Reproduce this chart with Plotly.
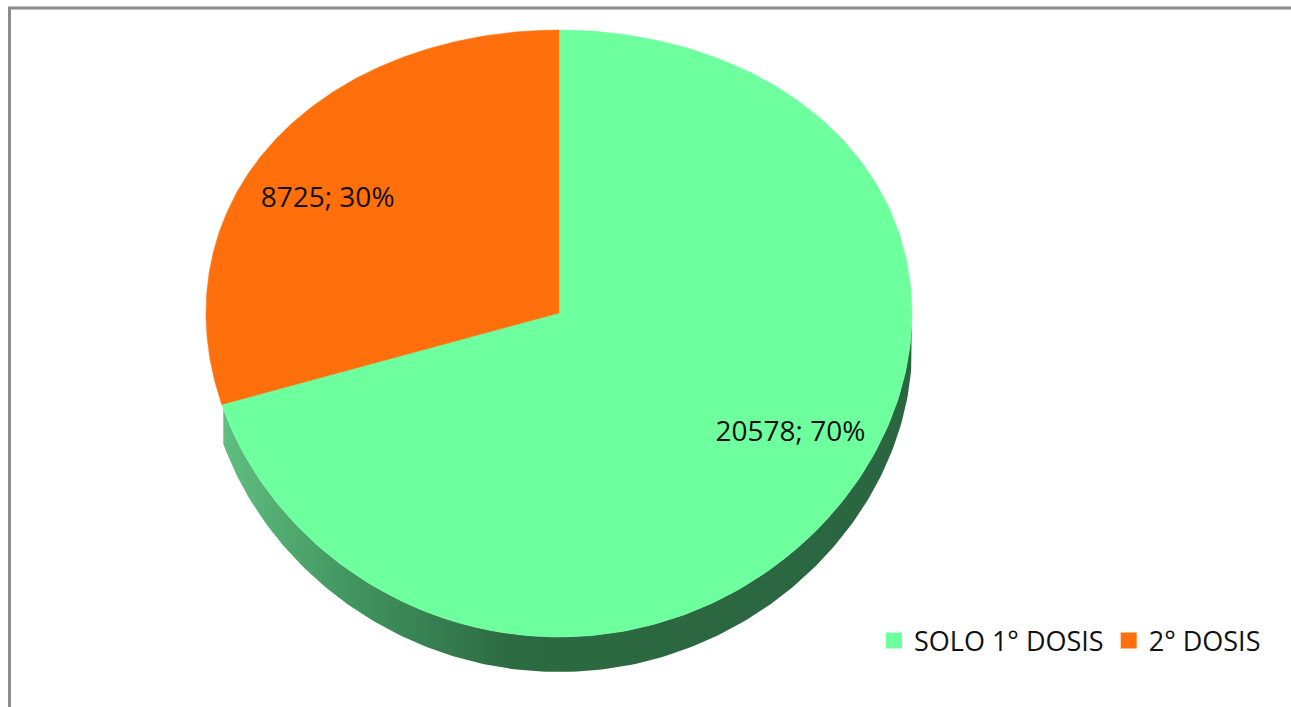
import numpy as np
import plotly.graph_objects as go

# ---- data ----
labels = ["SOLO 1° DOSIS", "2° DOSIS"]
values = [20578, 8725]

# ---- styles ----
top_colors = ["#6EFF9E", "#FF6F0B"]
side_scales = [
    [[0.0, "rgb(96,190,128)"], [0.18, "rgb(66,150,96)"], [0.42, "rgb(44,106,66)"], [1.0, "rgb(42,102,64)"]],
    [[0.0, "rgb(224,96,10)"], [1.0, "rgb(168,72,6)"]],
]
FONT = "Open Sans"

# geometry of the drawing (pixel-like axis units)
W, H = 1291, 707
CX, CY, RX, RY_T, RY_B, DEPTH = 559, 313, 353, 283, 324, 35
SIDE_FROM = 198   # side wall visible from this angle (deg) to 360
LABEL_R = 0.76    # label distance as fraction of radius
LABEL_ROT = 6.0   # perspective shift of label angle (deg)


def ellipse(theta_deg):
    t = np.radians(np.asarray(theta_deg, dtype=float))
    s = np.sin(t)
    ry = (RY_T + RY_B) / 2.0 - (RY_B - RY_T) / 2.0 * s
    return CX + RX * np.cos(t), CY - ry * s


total = float(sum(values))
slices = []
start = 90.0
for v in values:
    sweep = 360.0 * v / total
    slices.append((start, start - sweep))
    start -= sweep

fig = go.Figure()

# side wall of the front part of each slice
for i, (a0, a1) in enumerate(slices):
    for k in (-360, 0, 360):
        lo, hi = max(a1, SIDE_FROM - 360 + k), min(a0, k)
        if hi <= lo:
            continue
        th = np.linspace(lo, hi, 200)
        xs, ys = ellipse(th)
        fig.add_trace(go.Scatter(
            x=np.concatenate([xs, xs[::-1]]),
            y=np.concatenate([ys, ys[::-1] + DEPTH]),
            mode="lines", fill="toself",
            fillgradient=dict(type="horizontal", colorscale=side_scales[i],
                              start=float(xs.min()), stop=float(xs.max())),
            line=dict(width=0),
            hoverinfo="skip", showlegend=False))

# top faces
for i, (a0, a1) in enumerate(slices):
    th = np.linspace(a0, a1, 240)
    xs, ys = ellipse(th)
    fig.add_trace(go.Scatter(
        x=np.concatenate([[CX], xs, [CX]]),
        y=np.concatenate([[CY], ys, [CY]]),
        mode="lines", fill="toself", fillcolor=top_colors[i],
        line=dict(color=top_colors[i], width=0.5),
        hoverinfo="skip", showlegend=False))

# data labels
lx, ly, lt = [], [], []
for i, (a0, a1) in enumerate(slices):
    m = (a0 + a1) / 2.0 + LABEL_ROT
    ex, ey = ellipse(m)
    lx.append(CX + LABEL_R * (ex - CX))
    ly.append(CY + LABEL_R * (ey - CY))
    lt.append("%d; %d%%" % (values[i], round(100 * values[i] / total)))
fig.add_trace(go.Scatter(x=lx, y=ly, text=lt, mode="text",
                         textposition="middle center",
                         textfont=dict(family=FONT, size=28, color="#111111"),
                         hoverinfo="skip", showlegend=False))

# legend entries
for i, name in enumerate(labels):
    fig.add_trace(go.Scatter(x=[None], y=[None], mode="markers", name=name,
                             marker=dict(symbol="square", size=19, color=top_colors[i])))

fig.add_shape(type="rect", xref="x", yref="y", x0=9.5, y0=8, x1=W + 60, y1=H + 60,
              line=dict(color="#8C8C8C", width=3), layer="above")

fig.update_layout(
    width=W, height=H, autosize=False,
    margin=dict(l=0, r=0, t=0, b=0),
    paper_bgcolor="white", plot_bgcolor="white",
    xaxis=dict(range=[0, W], visible=False, fixedrange=True),
    yaxis=dict(range=[H, 0], visible=False, fixedrange=True),
    legend=dict(orientation="h", x=874 / W, y=1 - 641 / H, xanchor="left", yanchor="middle",
                font=dict(family=FONT, size=27, color="#111111"),
                itemwidth=30, bgcolor="rgba(0,0,0,0)"),
    showlegend=True,
)

fig.write_html("out.html",
               config={"displayModeBar": False},
               post_script="document.body.style.margin='0';document.body.style.overflow='hidden';")
